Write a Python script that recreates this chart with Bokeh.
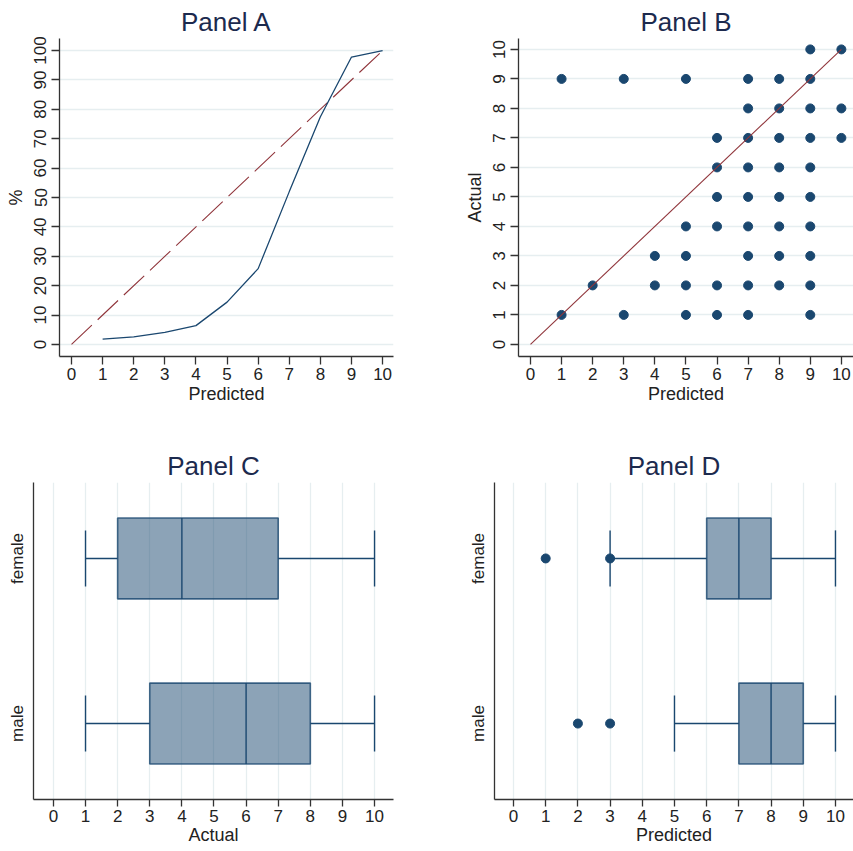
from bokeh.plotting import figure
from bokeh.layouts import column, row
from bokeh.models import FixedTicker, Range1d, ColumnDataSource
from bokeh.embed import file_html
from bokeh.resources import INLINE

# ---------------- data ----------------
pred_bins = [1, 2, 3, 4, 5, 6, 7, 8, 9, 10]
pct_actual = [1.8, 2.6, 4.1, 6.4, 14.4, 25.8, 52, 77.5, 97.8, 100]
ref_a_x = [0, 10]
ref_a_y = [0, 100]

b_pred = [9, 10,
          1, 3, 5, 7, 8, 9,
          7, 8, 9, 10,
          6, 7, 8, 9, 10,
          6, 7, 8, 9,
          6, 7, 8, 9,
          5, 6, 7, 8, 9,
          4, 5, 7, 8, 9,
          2, 4, 5, 6, 7, 8, 9,
          1, 3, 5, 6, 7, 9]
b_actual = [10, 10,
            9, 9, 9, 9, 9, 9,
            8, 8, 8, 8,
            7, 7, 7, 7, 7,
            6, 6, 6, 6,
            5, 5, 5, 5,
            4, 4, 4, 4, 4,
            3, 3, 3, 3, 3,
            2, 2, 2, 2, 2, 2, 2,
            1, 1, 1, 1, 1, 1]
ref_b = [0, 10]

groups = ["female", "male"]
group_pos = [1, 0]

c_lo = [1, 1]
c_q1 = [2, 3]
c_med = [4, 6]
c_q3 = [7, 8]
c_hi = [10, 10]

d_lo = [3, 5]
d_q1 = [6, 7]
d_med = [7, 8]
d_q3 = [8, 9]
d_hi = [10, 10]
d_out_x = [1, 3, 2, 3]
d_out_group = ["female", "female", "male", "male"]

ticks_0_10 = list(range(0, 11))
ticks_pct = list(range(0, 101, 10))

# ---------------- style ----------------
FONT = "Liberation Sans"
NAVY = "#1a476f"
MAROON = "#90353b"
GRID = "#e6eef0"
AXIS = "#333333"
TXT = "#222222"
TITLE = "#1c2a4e"


def style(p, title):
    p.title.text = title
    p.title.text_font = FONT
    p.title.text_font_size = "26px"
    p.title.text_font_style = "normal"
    p.title.text_color = TITLE
    p.title.align = "center"
    p.title.standoff = 4
    p.outline_line_color = None
    p.background_fill_color = "white"
    p.border_fill_color = "white"
    for ax in (p.xaxis[0], p.yaxis[0]):
        ax.axis_line_color = AXIS
        ax.axis_line_width = 1.3
        ax.major_tick_line_color = AXIS
        ax.major_tick_line_width = 1.3
        ax.major_tick_out = 8
        ax.major_tick_in = 0
        ax.minor_tick_line_color = None
        ax.major_label_text_font = FONT
        ax.major_label_text_font_size = "17px"
        ax.major_label_text_color = TXT
        ax.major_label_standoff = 3
        ax.axis_label_text_font = FONT
        ax.axis_label_text_font_size = "18px"
        ax.axis_label_text_font_style = "normal"
        ax.axis_label_text_color = TXT
        ax.axis_label_standoff = 1
    p.yaxis[0].major_label_standoff = 5
    p.yaxis[0].axis_label_standoff = 6
    p.xaxis[0].ticker = FixedTicker(ticks=ticks_0_10)


# ---------------- Panel A ----------------
pA = figure(width=426, height=430, output_backend="svg", toolbar_location=None,
            x_range=Range1d(-0.386, 10.35), y_range=Range1d(-4.1, 104.1),
            min_border_left=59, min_border_right=33, min_border_top=38, min_border_bottom=74)
style(pA, "Panel A")
pA.yaxis[0].ticker = FixedTicker(ticks=ticks_pct)
pA.yaxis[0].major_label_orientation = "vertical"
pA.xaxis[0].axis_label = "Predicted"
pA.yaxis[0].axis_label = "%"
pA.xgrid.visible = False
pA.ygrid.ticker = FixedTicker(ticks=ticks_pct)
pA.ygrid.grid_line_color = GRID
pA.ygrid.grid_line_width = 1.3
pA.line(ref_a_x, ref_a_y, line_color=MAROON, line_width=1.1, line_dash="28 8")
pA.line(pred_bins, pct_actual, line_color=NAVY, line_width=1.3)

# ---------------- Panel B ----------------
pB = figure(width=427, height=430, output_backend="svg", toolbar_location=None,
            x_range=Range1d(-0.386, 10.39), y_range=Range1d(-0.41, 10.37),
            min_border_left=92, min_border_right=0, min_border_top=38, min_border_bottom=74)
style(pB, "Panel B")
pB.yaxis[0].ticker = FixedTicker(ticks=ticks_0_10)
pB.yaxis[0].major_label_orientation = "vertical"
pB.xaxis[0].axis_label = "Predicted"
pB.yaxis[0].axis_label = "Actual"
pB.xgrid.visible = False
pB.ygrid.ticker = FixedTicker(ticks=ticks_0_10)
pB.ygrid.grid_line_color = GRID
pB.ygrid.grid_line_width = 1.3
pB.scatter(b_pred, b_actual, size=9, fill_color=NAVY, line_color=NAVY)
pB.line(ref_b, ref_b, line_color=MAROON, line_width=1.1)


# ---------------- box panels ----------------
def box_panel(title, xlabel, lo, q1, med, q3, hi, width, bl, br, xr, out_x=None, out_g=None):
    p = figure(width=width, height=421, output_backend="svg", toolbar_location=None,
               x_range=Range1d(*xr), y_range=Range1d(-0.46, 1.46),
               min_border_left=bl, min_border_right=br, min_border_top=52, min_border_bottom=52)
    style(p, title)
    p.xaxis[0].axis_label = xlabel
    p.xaxis[0].major_tick_out = 7
    p.xaxis[0].major_label_standoff = 3
    p.xaxis[0].axis_label_standoff = 0
    p.yaxis[0].ticker = FixedTicker(ticks=group_pos)
    p.yaxis[0].major_label_overrides = {gp: g for gp, g in zip(group_pos, groups)}
    p.yaxis[0].major_label_orientation = "vertical"
    p.yaxis[0].major_tick_out = 0
    p.yaxis[0].major_label_standoff = 6
    p.ygrid.visible = False
    p.xgrid.ticker = FixedTicker(ticks=ticks_0_10)
    p.xgrid.grid_line_color = GRID
    p.xgrid.grid_line_width = 1.3
    src = ColumnDataSource(dict(y=group_pos, lo=lo, q1=q1, med=med, q3=q3, hi=hi,
                                ylo=[g - 0.17 for g in group_pos],
                                yhi=[g + 0.17 for g in group_pos],
                                blo=[g - 0.245 for g in group_pos],
                                bhi=[g + 0.245 for g in group_pos]))
    # whiskers
    p.segment(x0="lo", y0="y", x1="q1", y1="y", source=src, line_color=NAVY, line_width=1.4)
    p.segment(x0="q3", y0="y", x1="hi", y1="y", source=src, line_color=NAVY, line_width=1.4)
    p.segment(x0="lo", y0="ylo", x1="lo", y1="yhi", source=src, line_color=NAVY, line_width=1.4)
    p.segment(x0="hi", y0="ylo", x1="hi", y1="yhi", source=src, line_color=NAVY, line_width=1.4)
    # box
    p.hbar(y="y", left="q1", right="q3", height=0.49, source=src,
           fill_color=NAVY, fill_alpha=0.5, line_color=NAVY, line_alpha=0.8, line_width=1.6)
    p.segment(x0="med", y0="blo", x1="med", y1="bhi", source=src,
              line_color=NAVY, line_alpha=0.85, line_width=1.6)
    if out_x is not None:
        oy = [group_pos[groups.index(g)] for g in out_g]
        p.scatter(out_x, oy, size=9, fill_color=NAVY, line_color=NAVY)
    return p


pC = box_panel("Panel C", "Actual", c_lo, c_q1, c_med, c_q3, c_hi, 426, 33, 33, (-0.62, 10.59))
pD = box_panel("Panel D", "Predicted", d_lo, d_q1, d_med, d_q3, d_hi, 427, 68, 0, (-0.59, 10.56),
               d_out_x, d_out_group)

layout = column(row(pA, pB), row(pC, pD))

open("out.html", "w").write(file_html(layout, INLINE))
